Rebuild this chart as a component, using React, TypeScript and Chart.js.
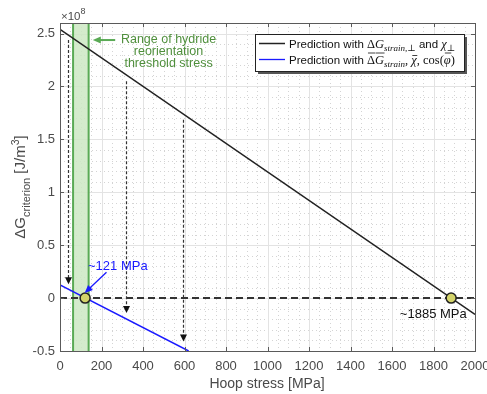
import React, { useEffect, useRef } from 'react';
import { Chart, registerables } from 'chart.js';

Chart.register(...registerables);

// ---- data ----
const X_MIN = 0;
const X_MAX = 2000;
const Y_MIN = -0.5;
const Y_MAX = 2.6;
const X_STEP = 200;
const Y_STEP = 0.5;
const X_MINOR = 50;
const Y_MINOR = 0.1;

const blackX = [0, 2000];
const blackY = [2.54, -0.155];
const blueX = [0, 620];
const blueY = [0.125, -0.5];
const zeroX = [0, 2000];
const zeroY = [0, 0];
const crossX = [121, 1885];
const crossY = [0, 0];
const bandRange = [63, 138];
const arrowX = [40, 318, 595];
const arrowTop = [2.44, 2.05, 1.685];
const arrowTip = [0.13, -0.14, -0.41];

const legendLabels = ['Prediction with ΔG strain,⊥ and χ⊥', 'Prediction with ΔG strain, χ̄, cos(φ̄)'];
const greenText = ['Range of hydride', 'reorientation', 'threshold stress'];
const blueLabel = '~121 MPa';
const blackLabel = '~1885 MPa';

const SANS = '"Liberation Sans", Arial, sans-serif';
const SERIF = '"Liberation Serif", "DejaVu Serif", serif';
const TICK_COLOR = '#4a4a4a';
const GREEN = '#5aaa55';
const GREEN_TEXT = '#4f8f3c';
const BLUE = '#1a1aff';

type Seg = { t: string; f: string; dy?: number; bar?: number };

function drawSegs(ctx: CanvasRenderingContext2D, segs: Seg[], x: number, y: number) {
  let cx = x;
  ctx.textAlign = 'left';
  for (const s of segs) {
    ctx.font = s.f;
    ctx.fillText(s.t, cx, y + (s.dy || 0));
    const w = ctx.measureText(s.t).width;
    if (s.bar) {
      ctx.save();
      ctx.lineWidth = 0.8;
      ctx.beginPath();
      ctx.moveTo(cx + 1, y - s.bar);
      ctx.lineTo(cx + w + 0.5, y - s.bar);
      ctx.stroke();
      ctx.restore();
    }
    cx += w;
  }
  return cx;
}

const overlay = {
  id: 'overlay',
  beforeDatasetsDraw(chart: any) {
    const { ctx, chartArea: a, scales } = chart;
    const xs = scales.x;
    const ys = scales.y;
    ctx.save();
    ctx.beginPath();
    ctx.rect(a.left, a.top, a.right - a.left, a.bottom - a.top);
    ctx.clip();
    // minor grid
    ctx.strokeStyle = '#d4d4d4';
    ctx.lineWidth = 1;
    ctx.setLineDash([1, 3]);
    for (let v = X_MIN; v <= X_MAX + 1e-6; v += X_MINOR) {
      if (Math.abs(v / X_STEP - Math.round(v / X_STEP)) < 1e-6) continue;
      const px = Math.round(xs.getPixelForValue(v)) + 0.5;
      ctx.beginPath();
      ctx.moveTo(px, a.top);
      ctx.lineTo(px, a.bottom);
      ctx.stroke();
    }
    for (let i = 0; Y_MIN + i * Y_MINOR <= Y_MAX + 1e-6; i++) {
      const v = Y_MIN + i * Y_MINOR;
      if (Math.abs(v / Y_STEP - Math.round(v / Y_STEP)) < 1e-6) continue;
      const py = Math.round(ys.getPixelForValue(v)) + 0.5;
      ctx.beginPath();
      ctx.moveTo(a.left, py);
      ctx.lineTo(a.right, py);
      ctx.stroke();
    }
    // major grid
    ctx.setLineDash([]);
    ctx.strokeStyle = '#e3e3e3';
    for (let v = X_MIN; v <= X_MAX; v += X_STEP) {
      const px = Math.round(xs.getPixelForValue(v)) + 0.5;
      ctx.beginPath();
      ctx.moveTo(px, a.top);
      ctx.lineTo(px, a.bottom);
      ctx.stroke();
    }
    for (let i = 0; Y_MIN + i * Y_STEP <= Y_MAX + 1e-6; i++) {
      const py = Math.round(ys.getPixelForValue(Y_MIN + i * Y_STEP)) + 0.5;
      ctx.beginPath();
      ctx.moveTo(a.left, py);
      ctx.lineTo(a.right, py);
      ctx.stroke();
    }
    // green band
    const b0 = xs.getPixelForValue(bandRange[0]);
    const b1 = xs.getPixelForValue(bandRange[1]);
    ctx.fillStyle = 'rgba(205,232,195,0.85)';
    ctx.fillRect(b0, a.top, b1 - b0, a.bottom - a.top);
    ctx.strokeStyle = GREEN;
    ctx.lineWidth = 2;
    for (const bx of [b0, b1]) {
      ctx.beginPath();
      ctx.moveTo(bx, a.top);
      ctx.lineTo(bx, a.bottom);
      ctx.stroke();
    }
    ctx.restore();
  },
  afterDatasetsDraw(chart: any) {
    const { ctx, scales } = chart;
    const xs = scales.x;
    const ys = scales.y;
    ctx.save();
    // vertical dashed arrows
    for (let i = 0; i < arrowX.length; i++) {
      const px = Math.round(xs.getPixelForValue(arrowX[i])) + 0.5;
      const top = ys.getPixelForValue(arrowTop[i]);
      const tip = ys.getPixelForValue(arrowTip[i]);
      ctx.strokeStyle = '#333';
      ctx.lineWidth = 1.2;
      ctx.setLineDash([3, 2]);
      ctx.beginPath();
      ctx.moveTo(px, top);
      ctx.lineTo(px, tip - 6);
      ctx.stroke();
      ctx.setLineDash([]);
      ctx.fillStyle = '#111';
      ctx.beginPath();
      ctx.moveTo(px - 3.5, tip - 7);
      ctx.lineTo(px + 3.5, tip - 7);
      ctx.lineTo(px, tip);
      ctx.closePath();
      ctx.fill();
    }
    // green annotation
    ctx.fillStyle = GREEN_TEXT;
    ctx.font = `12.5px ${SANS}`;
    ctx.textAlign = 'center';
    ctx.textBaseline = 'alphabetic';
    const gx = xs.getPixelForValue(523);
    const gYs = [2.412, 2.298, 2.183];
    greenText.forEach((t, i) => ctx.fillText(t, gx, ys.getPixelForValue(gYs[i])));
    const ay = ys.getPixelForValue(2.439);
    const ax0 = xs.getPixelForValue(266);
    const ax1 = xs.getPixelForValue(158);
    ctx.strokeStyle = GREEN;
    ctx.fillStyle = GREEN;
    ctx.lineWidth = 2;
    ctx.beginPath();
    ctx.moveTo(ax0, ay);
    ctx.lineTo(ax1 + 6, ay);
    ctx.stroke();
    ctx.beginPath();
    ctx.moveTo(ax1, ay);
    ctx.lineTo(ax1 + 8, ay - 3.5);
    ctx.lineTo(ax1 + 8, ay + 3.5);
    ctx.closePath();
    ctx.fill();
    // blue annotation
    ctx.fillStyle = BLUE;
    ctx.font = `13px ${SANS}`;
    ctx.textAlign = 'left';
    ctx.fillText(blueLabel, xs.getPixelForValue(135), ys.getPixelForValue(0.263));
    const bx0 = xs.getPixelForValue(224), by0 = ys.getPixelForValue(0.244);
    const bx1 = xs.getPixelForValue(119), by1 = ys.getPixelForValue(0.048);
    const ang = Math.atan2(by1 - by0, bx1 - bx0);
    ctx.strokeStyle = BLUE;
    ctx.lineWidth = 1.3;
    ctx.beginPath();
    ctx.moveTo(bx0, by0);
    ctx.lineTo(bx1 - 5 * Math.cos(ang), by1 - 5 * Math.sin(ang));
    ctx.stroke();
    ctx.beginPath();
    ctx.moveTo(bx1, by1);
    ctx.lineTo(bx1 - 8 * Math.cos(ang) + 3.5 * Math.sin(ang), by1 - 8 * Math.sin(ang) - 3.5 * Math.cos(ang));
    ctx.lineTo(bx1 - 8 * Math.cos(ang) - 3.5 * Math.sin(ang), by1 - 8 * Math.sin(ang) + 3.5 * Math.cos(ang));
    ctx.closePath();
    ctx.fill();
    // black annotation
    ctx.fillStyle = '#111';
    ctx.textAlign = 'right';
    ctx.fillText(blackLabel, xs.getPixelForValue(1960), ys.getPixelForValue(-0.185));
    ctx.restore();
  },
  afterDraw(chart: any) {
    const { ctx, chartArea: a, scales } = chart;
    const xs = scales.x;
    const ys = scales.y;
    ctx.save();
    // axes box
    ctx.strokeStyle = '#5a5a5a';
    ctx.lineWidth = 1;
    ctx.strokeRect(Math.round(a.left) + 0.5, Math.round(a.top) + 0.5, Math.round(a.right - a.left), Math.round(a.bottom - a.top));
    // tick marks (inward)
    for (let v = X_MIN; v <= X_MAX; v += X_STEP) {
      const px = Math.round(xs.getPixelForValue(v)) + 0.5;
      ctx.beginPath();
      ctx.moveTo(px, a.bottom);
      ctx.lineTo(px, a.bottom - 4);
      ctx.moveTo(px, a.top);
      ctx.lineTo(px, a.top + 4);
      ctx.stroke();
    }
    for (let i = 0; Y_MIN + i * Y_STEP <= Y_MAX + 1e-6; i++) {
      const py = Math.round(ys.getPixelForValue(Y_MIN + i * Y_STEP)) + 0.5;
      ctx.beginPath();
      ctx.moveTo(a.left, py);
      ctx.lineTo(a.left + 4, py);
      ctx.moveTo(a.right, py);
      ctx.lineTo(a.right - 4, py);
      ctx.stroke();
    }
    // exponent
    ctx.fillStyle = TICK_COLOR;
    ctx.textAlign = 'left';
    ctx.textBaseline = 'alphabetic';
    ctx.font = `11.5px ${SANS}`;
    ctx.fillText('×10', a.left + 1, a.top - 3);
    const w10 = ctx.measureText('×10').width;
    ctx.font = `9px ${SANS}`;
    ctx.fillText('8', a.left + 1 + w10, a.top - 9);
    // x title
    ctx.font = `14px ${SANS}`;
    ctx.textAlign = 'center';
    ctx.fillText('Hoop stress [MPa]', (a.left + a.right) / 2 - 0.5, 388);
    // y title
    ctx.save();
    ctx.translate(25, 187);
    ctx.rotate(-Math.PI / 2);
    const ySegs: Seg[] = [
      { t: 'ΔG', f: `15px ${SANS}` },
      { t: 'criterion', f: `11px ${SANS}`, dy: 4.5 },
      { t: ' [J/m', f: `15px ${SANS}` },
      { t: '3', f: `10.5px ${SANS}`, dy: -6.5 },
      { t: ']', f: `15px ${SANS}` },
    ];
    let total = 0;
    for (const s of ySegs) {
      ctx.font = s.f;
      total += ctx.measureText(s.t).width;
    }
    drawSegs(ctx, ySegs, -total / 2, 0);
    ctx.restore();
    // legend
    const lx = 255, ly = 34, lw = 209, lh = 37;
    ctx.fillStyle = '#555';
    ctx.fillRect(lx + 3, ly + 3, lw, lh);
    ctx.fillStyle = '#fff';
    ctx.fillRect(lx, ly, lw, lh);
    ctx.strokeStyle = '#222';
    ctx.lineWidth = 1;
    ctx.strokeRect(lx + 0.5, ly + 0.5, lw, lh);
    const rows = [43.5, 59.5];
    const colors = ['#222', BLUE];
    rows.forEach((ry, i) => {
      ctx.strokeStyle = colors[i];
      ctx.lineWidth = i === 0 ? 1.5 : 1.3;
      ctx.beginPath();
      ctx.moveTo(259, ry);
      ctx.lineTo(285, ry);
      ctx.stroke();
    });
    ctx.fillStyle = '#111';
    ctx.strokeStyle = '#111';
    const sans = `11.5px ${SANS}`;
    const mi = `italic 12.5px ${SERIF}`;
    const up = `12.5px ${SERIF}`;
    const sub = `italic 9px ${SERIF}`;
    drawSegs(ctx, [
      { t: 'Prediction with ', f: sans },
      { t: 'Δ', f: up },
      { t: 'G', f: mi },
      { t: 'strain,⊥', f: sub, dy: 3 },
      { t: ' and ', f: sans },
      { t: 'χ', f: mi },
      { t: '⊥', f: sub, dy: 3 },
    ], 289, rows[0] + 4);
    drawSegs(ctx, [
      { t: 'Prediction with ', f: sans },
      { t: 'Δ', f: up, bar: 10.5 },
      { t: 'G', f: mi, bar: 10.5 },
      { t: 'strain', f: sub, dy: 3 },
      { t: ', ', f: up },
      { t: 'χ', f: mi, bar: 8 },
      { t: ', ', f: up },
      { t: 'cos(', f: up },
      { t: 'φ', f: mi, bar: 10.5 },
      { t: ')', f: up },
    ], 289, rows[1] + 4);
    ctx.restore();
  },
};

function pts(xs: number[], ys: number[]) {
  return xs.map((x, i) => ({ x, y: ys[i] }));
}

export default function App() {
  const ref = useRef<HTMLCanvasElement | null>(null);
  useEffect(() => {
    document.body.style.margin = '0';
    const canvas = ref.current!;
    const chart = new Chart(canvas, {
      type: 'line',
      data: {
        datasets: [
          { label: legendLabels[0], data: pts(blackX, blackY), borderColor: '#222', borderWidth: 1.5, pointRadius: 0, order: 3 },
          { label: legendLabels[1], data: pts(blueX, blueY), borderColor: BLUE, borderWidth: 1.5, pointRadius: 0, order: 2 },
          { label: 'zero', data: pts(zeroX, zeroY), borderColor: '#333', borderWidth: 2, borderDash: [7, 4], pointRadius: 0, order: 4 },
          {
            label: 'cross', data: pts(crossX, crossY), showLine: false, pointRadius: 5, pointBorderWidth: 1.5,
            pointBackgroundColor: '#d3d36a', pointBorderColor: '#222', order: 1,
          },
        ],
      },
      options: {
        animation: false,
        responsive: false,
        devicePixelRatio: 1,
        layout: { padding: { top: 23, right: 12, left: 0, bottom: 0 } },
        plugins: { legend: { display: false }, tooltip: { enabled: false } },
        scales: {
          x: {
            type: 'linear', min: X_MIN, max: X_MAX,
            grid: { display: false, drawTicks: false, tickLength: 0 }, border: { display: false },
            ticks: {
              stepSize: X_STEP, includeBounds: false, padding: 8, maxRotation: 0, autoSkip: false,
              color: TICK_COLOR, font: { family: SANS, size: 13 },
              callback: (v: any) => String(v),
            },
            afterFit: (s: any) => { s.height = 43; s.paddingLeft = 0; s.paddingRight = 0; },
          },
          y: {
            type: 'linear', min: Y_MIN, max: Y_MAX,
            grid: { display: false, drawTicks: false, tickLength: 0 }, border: { display: false },
            ticks: {
              stepSize: Y_STEP, includeBounds: false, padding: 5, autoSkip: false,
              color: TICK_COLOR, font: { family: SANS, size: 13 },
              callback: (v: any) => String(Math.round(v * 10) / 10),
            },
            afterFit: (s: any) => { s.width = 60; s.paddingTop = 0; s.paddingBottom = 0; },
          },
        },
      },
      plugins: [overlay],
    } as any);
    return () => chart.destroy();
  }, []);
  return (
    <div style={{ position: 'absolute', left: 0, top: 0 }}>
      <canvas ref={ref} width={487} height={394} style={{ width: 487, height: 394 }} />
    </div>
  );
}
